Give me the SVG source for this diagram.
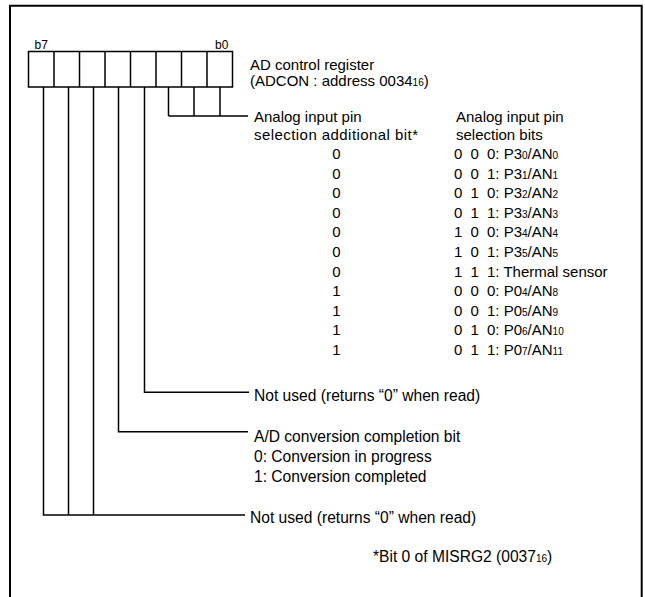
<svg xmlns="http://www.w3.org/2000/svg" width="645" height="597" viewBox="0 0 645 597">
<style>
text{font-family:"Liberation Sans",Arial,sans-serif;font-size:15px;fill:#000}
.lo{font-size:15.6px}
.sm{font-size:12px}
.sub{font-size:10px}
.ln{fill:none;stroke:#000;stroke-width:1.5}
.c{text-anchor:middle}
</style>
<rect width="645" height="597" fill="#fff"/>
<path d="M10,597 V5.7 H641.7 V597" fill="none" stroke="#000" stroke-width="2"/>
<g id="register">
<text class="sm" x="34.5" y="48.5">b7</text>
<text class="sm" x="215" y="48.5">b0</text>
<rect class="ln" x="28.5" y="51.5" width="204" height="35.5"/>
<path class="ln" d="M54,51.5V87M79.5,51.5V87M105,51.5V87M130.5,51.5V87M156,51.5V87M181.5,51.5V87M207,51.5V87"/>
<text x="250" y="70">AD control register</text>
<text x="250" y="86">(ADCON : address 0034<tspan class="sub">16</tspan>)</text>
</g>
<g id="connectors">
<path class="ln" d="M168.5,87V116M194,87V116M220,87V116M168.5,116H248"/>
<path class="ln" d="M144.5,87V392.3H249"/>
<path class="ln" d="M118.5,87V431.7H248"/>
<path class="ln" d="M43.5,87V515H245M68.5,87V515M93.5,87V515"/>
</g>
<g id="pin-select">
<text x="254" y="121.7">Analog input pin</text>
<text x="254" y="139.5" textLength="164" lengthAdjust="spacing">selection additional bit*</text>
<text x="456" y="121.7">Analog input pin</text>
<text x="456" y="139.5">selection bits</text>
<g class="c">
<text x="336.5" y="159">0</text>
<text x="336.5" y="178.6">0</text>
<text x="336.5" y="198.2">0</text>
<text x="336.5" y="217.8">0</text>
<text x="336.5" y="237.4">0</text>
<text x="336.5" y="257">0</text>
<text x="336.5" y="276.6">0</text>
<text x="336.5" y="296.2">1</text>
<text x="336.5" y="315.8">1</text>
<text x="336.5" y="335.4">1</text>
<text x="336.5" y="355">1</text>
</g>
<text y="159"><tspan x="454">0</tspan><tspan x="470.5">0</tspan><tspan x="487">0: P3</tspan><tspan class="sub">0</tspan>/AN<tspan class="sub">0</tspan></text>
<text y="178.6"><tspan x="454">0</tspan><tspan x="470.5">0</tspan><tspan x="487">1: P3</tspan><tspan class="sub">1</tspan>/AN<tspan class="sub">1</tspan></text>
<text y="198.2"><tspan x="454">0</tspan><tspan x="470.5">1</tspan><tspan x="487">0: P3</tspan><tspan class="sub">2</tspan>/AN<tspan class="sub">2</tspan></text>
<text y="217.8"><tspan x="454">0</tspan><tspan x="470.5">1</tspan><tspan x="487">1: P3</tspan><tspan class="sub">3</tspan>/AN<tspan class="sub">3</tspan></text>
<text y="237.4"><tspan x="454">1</tspan><tspan x="470.5">0</tspan><tspan x="487">0: P3</tspan><tspan class="sub">4</tspan>/AN<tspan class="sub">4</tspan></text>
<text y="257"><tspan x="454">1</tspan><tspan x="470.5">0</tspan><tspan x="487">1: P3</tspan><tspan class="sub">5</tspan>/AN<tspan class="sub">5</tspan></text>
<text y="276.6"><tspan x="454">1</tspan><tspan x="470.5">1</tspan><tspan x="487">1: Thermal sensor</tspan></text>
<text y="296.2"><tspan x="454">0</tspan><tspan x="470.5">0</tspan><tspan x="487">0: P0</tspan><tspan class="sub">4</tspan>/AN<tspan class="sub">8</tspan></text>
<text y="315.8"><tspan x="454">0</tspan><tspan x="470.5">0</tspan><tspan x="487">1: P0</tspan><tspan class="sub">5</tspan>/AN<tspan class="sub">9</tspan></text>
<text y="335.4"><tspan x="454">0</tspan><tspan x="470.5">1</tspan><tspan x="487">0: P0</tspan><tspan class="sub">6</tspan>/AN<tspan class="sub">10</tspan></text>
<text y="355"><tspan x="454">0</tspan><tspan x="470.5">1</tspan><tspan x="487">1: P0</tspan><tspan class="sub">7</tspan>/AN<tspan class="sub">11</tspan></text>
</g>
<g id="bit3">
<text class="lo" x="254" y="400.7">Not used (returns “0” when read)</text>
</g>
<g id="bit4">
<text class="lo" x="254" y="441.7">A/D conversion completion bit</text>
<text class="lo" x="254" y="461.7">0: Conversion in progress</text>
<text class="lo" x="254" y="481.7">1: Conversion completed</text>
</g>
<g id="bit5-7">
<text class="lo" x="250" y="522.5">Not used (returns “0” when read)</text>
</g>
<g id="note">
<text class="lo" x="373" y="562">*Bit 0 of MISRG2 (0037<tspan class="sub">16</tspan>)</text>
</g>
</svg>
